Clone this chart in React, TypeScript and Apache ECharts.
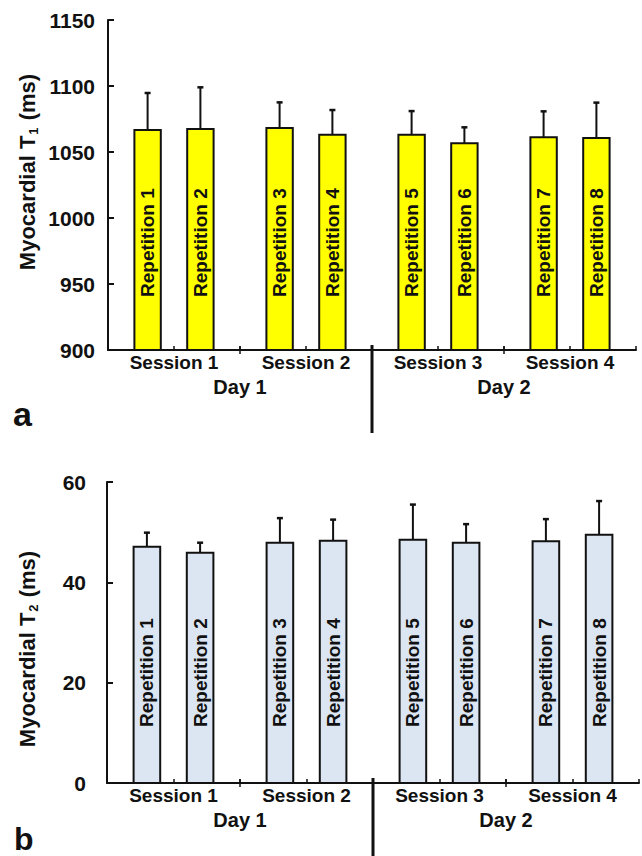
import React, { useEffect, useRef } from 'react';
import * as echarts from 'echarts';

const sessions = ['Session 1', 'Session 2', 'Session 3', 'Session 4'];
const days = ['Day 1', 'Day 2'];
const repetitions = ['Repetition 1', 'Repetition 2', 'Repetition 3', 'Repetition 4', 'Repetition 5', 'Repetition 6', 'Repetition 7', 'Repetition 8'];
const t1Mean = [1066.7, 1067.4, 1068.2, 1063.1, 1063.1, 1056.6, 1061.1, 1060.6];
const t1SD = [28.0, 31.6, 19.4, 18.7, 17.9, 12.1, 19.7, 26.8];
const t2Mean = [47.1, 45.9, 47.9, 48.3, 48.5, 47.9, 48.2, 49.5];
const t2SD = [2.8, 2.0, 4.9, 4.2, 7.0, 3.7, 4.4, 6.7];
const t1Ticks = { min: 900, max: 1150, interval: 50 };
const t2Ticks = { min: 0, max: 60, interval: 20 };

const FONT = 'Liberation Sans, Arial, Helvetica, sans-serif';
const INK = '#111111';

// position of repetition i on the session axis (each session spans 2 units)
const repX = (i: number) => Math.floor(i / 2) * 2 + 0.6 + 0.8 * (i % 2);

function barSeries(idx: number, means: number[], sds: number[], yMin: number, fill: string, textDrop: number) {
  return {
    type: 'custom',
    xAxisIndex: idx,
    yAxisIndex: idx,
    clip: false,
    z: 3,
    data: means.map((m, i) => [repX(i), m, sds[i]]),
    renderItem: (params: any, api: any) => {
      const x = api.value(0);
      const y = api.value(1);
      const sd = api.value(2);
      const base = api.coord([x, yMin]);
      const top = api.coord([x, y]);
      const err = api.coord([x, y + sd]);
      const w = api.size([0.4, 0])[0];
      return {
        type: 'group',
        children: [
          { type: 'line', shape: { x1: top[0], y1: top[1], x2: err[0], y2: err[1] }, style: { stroke: INK, lineWidth: 2 } },
          { type: 'line', shape: { x1: err[0] - 3, y1: err[1], x2: err[0] + 3, y2: err[1] }, style: { stroke: INK, lineWidth: 2.5 } },
          { type: 'rect', shape: { x: base[0] - w / 2, y: top[1], width: w, height: base[1] - top[1] }, style: { fill, stroke: INK, lineWidth: 2 } },
          {
            type: 'text', x: base[0], y: base[1] - textDrop, rotation: Math.PI / 2,
            style: { text: repetitions[params.dataIndex], align: 'left', verticalAlign: 'middle', font: `bold 19px ${FONT}`, fill: INK },
          },
        ],
      };
    },
  };
}

function dividerSeries(idx: number, yMin: number, length: number) {
  return {
    type: 'custom',
    xAxisIndex: idx,
    yAxisIndex: idx,
    clip: false,
    z: 4,
    data: [[2, yMin, 0], [4, yMin, 1], [6, yMin, 0]],
    renderItem: (params: any, api: any) => {
      const p = api.coord([api.value(0), api.value(1)]);
      const isDiv = api.value(2) === 1;
      return {
        type: 'line',
        shape: { x1: p[0], y1: p[1] - (isDiv ? 5 : 4), x2: p[0], y2: p[1] + (isDiv ? length : 4) },
        style: { stroke: INK, lineWidth: isDiv ? 3 : 1.5 },
      };
    },
  };
}

function xAxis(idx: number) {
  return {
    type: 'value',
    gridIndex: idx,
    min: 0,
    max: 8,
    interval: 1,
    axisLine: { show: true, lineStyle: { color: INK, width: 2 } },
    axisTick: { show: true, inside: true, length: 4, lineStyle: { color: INK, width: 1.5 } },
    splitLine: { show: false },
    axisLabel: {
      margin: 3,
      showMaxLabel: true,
      showMinLabel: true,
      formatter: (v: number) => {
        if (v % 2 === 1) return `{s|${sessions[(v - 1) / 2]}}`;
        if (v === 2) return `{d|${days[0]}}`;
        if (v === 6) return `{d|${days[1]}}`;
        return '';
      },
      rich: {
        s: { fontFamily: FONT, fontWeight: 'bold', fontSize: 19, color: INK },
        d: { fontFamily: FONT, fontWeight: 'bold', fontSize: 20, color: INK, padding: [24, 0, 0, 0] },
      },
    },
  };
}

function yAxis(idx: number, t: { min: number; max: number; interval: number }, margin: number) {
  return {
    type: 'value',
    gridIndex: idx,
    min: t.min,
    max: t.max,
    interval: t.interval,
    axisLine: { show: true, lineStyle: { color: INK, width: 2 } },
    axisTick: { show: true, inside: true, length: 6, lineStyle: { color: INK, width: 2 } },
    splitLine: { show: false },
    axisLabel: { margin, fontFamily: FONT, fontWeight: 'bold', fontSize: 21, color: INK, formatter: (v: number) => String(v) },
  };
}

function yTitle(x: number, y: number, sub: string) {
  return {
    type: 'text',
    x, y,
    rotation: Math.PI / 2,
    style: {
      text: `{m|Myocardial T}{s|${sub}}{m| (ms)}`,
      align: 'center',
      verticalAlign: 'middle',
      rich: {
        m: { font: `bold 22px ${FONT}`, fill: INK, lineHeight: 30, verticalAlign: 'middle' },
        s: { font: `bold 13px ${FONT}`, fill: INK, lineHeight: 30, padding: [12, 1, 0, 1], verticalAlign: 'middle' },
      },
    },
  };
}

export default function App() {
  const ref = useRef<HTMLDivElement>(null);
  useEffect(() => {
    if (!ref.current) return;
    const chart = echarts.init(ref.current, null, { renderer: 'svg' });
    chart.setOption({
      animation: false,
      backgroundColor: '#ffffff',
      grid: [
        { left: 108, top: 20, width: 528, height: 330 },
        { left: 107, top: 482, width: 536, height: 301 },
      ],
      xAxis: [xAxis(0), xAxis(1)],
      yAxis: [yAxis(0, t1Ticks, 13), yAxis(1, t2Ticks, 21)],
      series: [
        barSeries(0, t1Mean, t1SD, t1Ticks.min, '#FFFF00', 53),
        barSeries(1, t2Mean, t2SD, t2Ticks.min, '#DCE6F2', 56),
        dividerSeries(0, t1Ticks.min, 83),
        dividerSeries(1, t2Ticks.min, 75),
      ],
      graphic: [
        yTitle(27, 172, '1'),
        yTitle(27, 649, '2'),
        { type: 'text', x: 13, y: 414, style: { text: 'a', font: `bold 34px ${FONT}`, fill: INK, verticalAlign: 'middle' } },
        { type: 'text', x: 14, y: 839, style: { text: 'b', font: `bold 32px ${FONT}`, fill: INK, verticalAlign: 'middle' } },
      ],
    });
    return () => chart.dispose();
  }, []);
  return <div ref={ref} style={{ position: 'absolute', left: 0, top: 0, width: 642, height: 856 }} />;
}
